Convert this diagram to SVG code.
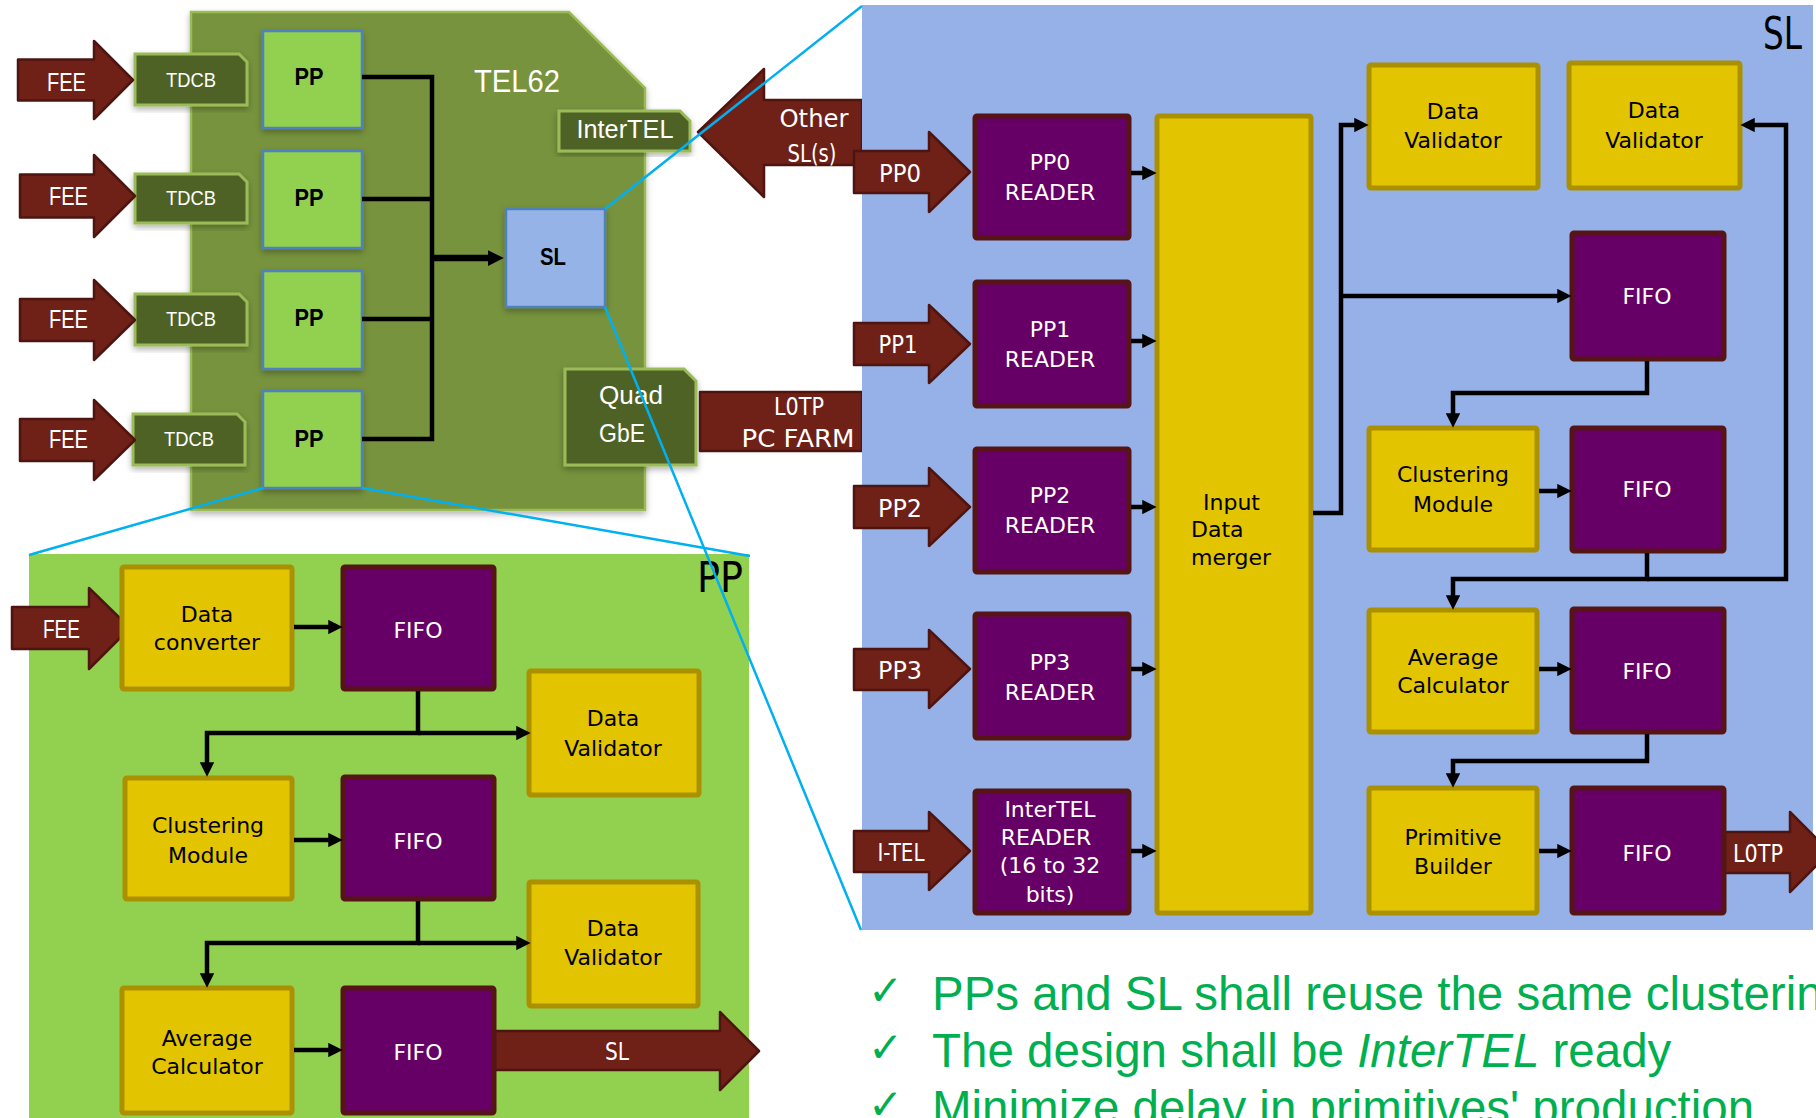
<svg xmlns="http://www.w3.org/2000/svg" width="1816" height="1118" viewBox="0 0 1816 1118">
<defs>
<style>
.board{fill:#77933c;stroke:#9bbb59;stroke-width:2.5}
.dk{fill:#4f6228;stroke:#9bbb59;stroke-width:3}
.ppb{fill:#92d050;stroke:#4f81bd;stroke-width:2.5}
.slb{fill:#95b3e7;stroke:#4f81bd;stroke-width:2.5}
.red{fill:#6f2017;stroke:#4e1510;stroke-width:2.5;stroke-linejoin:round}
.pur{fill:#660066;stroke:#561416;stroke-width:5}
.yel{fill:#e2c400;stroke:#ab9000;stroke-width:5}
.wire{fill:none;stroke:#000;stroke-width:4.5;marker-end:url(#ah)}
.bus{fill:none;stroke:#000;stroke-width:4.5}
.zoom{fill:none;stroke:#00b0f0;stroke-width:2.5}
.t{font-family:"DejaVu Sans",Verdana,sans-serif;text-anchor:middle}
.b22{font-size:22px}
.b24{font-size:24px}
.n{font-family:"Liberation Sans Narrow","Liberation Sans",Arial,sans-serif;text-anchor:middle}
.st{text-anchor:start}
.w{fill:#fff}
.k{fill:#000}
.bul{font-family:"Liberation Sans",Arial,sans-serif;font-size:47.5px;fill:#00b050}
.chk{font-family:"DejaVu Sans",sans-serif;font-size:42px;fill:#00b050}
</style>
<marker id="ah" viewBox="0 0 10 10" refX="4" refY="5" markerWidth="3.2" markerHeight="3.2" orient="auto" markerUnits="strokeWidth"><path d="M0,0L10,5L0,10z" fill="#000"/></marker>
<marker id="ahb" viewBox="0 0 10 10" refX="4" refY="5" markerWidth="2.5" markerHeight="2.7" orient="auto" markerUnits="strokeWidth"><path d="M0,0L10,5L0,10z" fill="#000"/></marker>
<filter id="sh" x="-10%" y="-10%" width="125%" height="125%"><feDropShadow dx="0" dy="3" stdDeviation="3" flood-color="#000" flood-opacity="0.3"/></filter>
</defs>
<rect width="1816" height="1118" fill="#fff"/>

<!-- TEL62 board -->
<g id="tel62">
<path class="board" filter="url(#sh)" d="M191,12H569L645,88V510H191Z"/>
<text class="n w" x="517" y="92" font-size="32" textLength="86" lengthAdjust="spacingAndGlyphs">TEL62</text>
</g>

<g id="tdcb1"><path class="dk" filter="url(#sh)" d="M135,54H239L247,62V105H135Z"/><text class="n w" x="191" y="87" font-size="21" textLength="50" lengthAdjust="spacingAndGlyphs">TDCB</text></g>
<g id="tdcb2"><path class="dk" filter="url(#sh)" d="M135,174H239L247,182V223H135Z"/><text class="n w" x="191" y="205" font-size="21" textLength="50" lengthAdjust="spacingAndGlyphs">TDCB</text></g>
<g id="tdcb3"><path class="dk" filter="url(#sh)" d="M135,294H239L247,302V345H135Z"/><text class="n w" x="191" y="326" font-size="21" textLength="50" lengthAdjust="spacingAndGlyphs">TDCB</text></g>
<g id="tdcb4"><path class="dk" filter="url(#sh)" d="M133,414H237L245,422V465H133Z"/><text class="n w" x="189" y="446" font-size="21" textLength="50" lengthAdjust="spacingAndGlyphs">TDCB</text></g>

<g id="fee1"><path class="red" d="M18,59.5H94V41L133,80L94,119V100.5H18Z"/><text class="n w" x="66.5" y="91" font-size="25" textLength="39" lengthAdjust="spacingAndGlyphs">FEE</text></g>
<g id="fee2"><path class="red" d="M20,174.5H94V155L135,196L94,237V217.5H20Z"/><text class="n w" x="68.5" y="205" font-size="25" textLength="39" lengthAdjust="spacingAndGlyphs">FEE</text></g>
<g id="fee3"><path class="red" d="M20,299H94V280L135,320L94,360V341H20Z"/><text class="n w" x="68.5" y="328" font-size="25" textLength="39" lengthAdjust="spacingAndGlyphs">FEE</text></g>
<g id="fee4"><path class="red" d="M20,419H94V400L135,440L94,480V461H20Z"/><text class="n w" x="68.5" y="448" font-size="25" textLength="39" lengthAdjust="spacingAndGlyphs">FEE</text></g>

<g id="pp1"><rect class="ppb" filter="url(#sh)" x="263" y="31" width="99" height="97"/><text class="n k" x="309" y="85" font-size="24" font-weight="bold" textLength="29" lengthAdjust="spacingAndGlyphs">PP</text></g>
<g id="pp2"><rect class="ppb" filter="url(#sh)" x="263" y="151" width="99" height="97"/><text class="n k" x="309" y="206" font-size="24" font-weight="bold" textLength="29" lengthAdjust="spacingAndGlyphs">PP</text></g>
<g id="pp3"><rect class="ppb" filter="url(#sh)" x="263" y="271" width="99" height="98"/><text class="n k" x="309" y="326" font-size="24" font-weight="bold" textLength="29" lengthAdjust="spacingAndGlyphs">PP</text></g>
<g id="pp4"><rect class="ppb" filter="url(#sh)" x="263" y="391" width="99" height="97"/><text class="n k" x="309" y="447" font-size="24" font-weight="bold" textLength="29" lengthAdjust="spacingAndGlyphs">PP</text></g>

<g id="sl-box"><rect class="slb" filter="url(#sh)" x="506" y="209" width="99" height="98"/><text class="n k" x="553" y="265" font-size="24" font-weight="bold" textLength="26" lengthAdjust="spacingAndGlyphs">SL</text></g>

<g id="intertel"><path class="dk" filter="url(#sh)" d="M559,111H680L690,121V151H559Z"/><text class="n w" x="625" y="138" font-size="25" textLength="97" lengthAdjust="spacingAndGlyphs">InterTEL</text></g>

<g id="quad-gbe"><path class="dk" filter="url(#sh)" d="M565,369H684L696,381V465H565Z"/>
<text class="n w st" x="599" y="404" font-size="25" textLength="64" lengthAdjust="spacingAndGlyphs">Quad</text>
<text class="n w st" x="599" y="442" font-size="25" textLength="46" lengthAdjust="spacingAndGlyphs">GbE</text></g>

<g id="other-sl"><path class="red" d="M862,100H764V69L698,132L764,197V165H862Z"/>
<text class="t b24 w" x="814" y="127" textLength="69" lengthAdjust="spacingAndGlyphs">Other</text>
<text class="t b24 w" x="812" y="162" textLength="49" lengthAdjust="spacingAndGlyphs">SL(s)</text></g>

<g id="l0tp-farm"><rect class="red" x="700" y="392" width="162" height="59"/>
<text class="t b24 w" x="799" y="415" textLength="50" lengthAdjust="spacingAndGlyphs">L0TP</text>
<text class="t b24 w" x="798" y="447" textLength="113" lengthAdjust="spacingAndGlyphs">PC FARM</text></g>

<!-- SL detail panel -->
<g id="sl-panel">
<rect x="862" y="5" width="951" height="925" fill="#95b1e7"/>
<text class="t k st" x="1763" y="49" style="font-size:44px" textLength="39" lengthAdjust="spacingAndGlyphs">SL</text>
</g>

<g id="in-pp0"><path class="red" d="M854,151H929V132L970,172L929,212V193H854Z"/><text class="t b24 w" x="900" y="182" textLength="42" lengthAdjust="spacingAndGlyphs">PP0</text></g>
<g id="in-pp1"><path class="red" d="M854,323H929V305L970,344L929,383V365H854Z"/><text class="t b24 w" x="898" y="353" textLength="39" lengthAdjust="spacingAndGlyphs">PP1</text></g>
<g id="in-pp2"><path class="red" d="M854,486H929V468L970,507L929,546V528H854Z"/><text class="t b24 w" x="900" y="517" textLength="44" lengthAdjust="spacingAndGlyphs">PP2</text></g>
<g id="in-pp3"><path class="red" d="M854,649H929V630L970,669L929,708V690H854Z"/><text class="t b24 w" x="900" y="679" textLength="44" lengthAdjust="spacingAndGlyphs">PP3</text></g>
<g id="in-itel"><path class="red" d="M854,831H929V812L970,851L929,890V872H854Z"/><text class="t b24 w" x="901" y="861" textLength="47" lengthAdjust="spacingAndGlyphs">I-TEL</text></g>

<g id="pp0-reader"><rect class="pur" x="975" y="116" width="154" height="122" rx="2"/><text class="t b22 w" x="1050" y="170">PP0</text><text class="t b22 w" x="1050" y="200">READER</text></g>
<g id="pp1-reader"><rect class="pur" x="975" y="282" width="154" height="124" rx="2"/><text class="t b22 w" x="1050" y="337">PP1</text><text class="t b22 w" x="1050" y="367">READER</text></g>
<g id="pp2-reader"><rect class="pur" x="975" y="449" width="154" height="123" rx="2"/><text class="t b22 w" x="1050" y="503">PP2</text><text class="t b22 w" x="1050" y="533">READER</text></g>
<g id="pp3-reader"><rect class="pur" x="975" y="614" width="154" height="124" rx="2"/><text class="t b22 w" x="1050" y="670">PP3</text><text class="t b22 w" x="1050" y="700">READER</text></g>
<g id="intertel-reader"><rect class="pur" x="975" y="791" width="154" height="122" rx="2"/><text class="t b22 w" x="1050" y="817">InterTEL</text><text class="t b22 w" x="1046" y="845">READER</text><text class="t b22 w" x="1050" y="873">(16 to 32</text><text class="t b22 w" x="1050" y="902">bits)</text></g>

<g id="merger"><rect class="yel" x="1157" y="116" width="154" height="797" rx="2"/>
<text class="t b22 k st" x="1203" y="510">Input</text>
<text class="t b22 k st" x="1191" y="537">Data</text>
<text class="t b22 k st" x="1191" y="565">merger</text></g>

<g id="sl-dv1"><rect class="yel" x="1369" y="65" width="169" height="123" rx="2"/><text class="t b22 k" x="1453" y="119">Data</text><text class="t b22 k" x="1453" y="148">Validator</text></g>
<g id="sl-dv2"><rect class="yel" x="1569" y="63" width="171" height="125" rx="2"/><text class="t b22 k" x="1654" y="118">Data</text><text class="t b22 k" x="1654" y="148">Validator</text></g>
<g id="sl-fifo1"><rect class="pur" x="1572" y="233" width="152" height="126" rx="2"/><text class="t b22 w" x="1647" y="304">FIFO</text></g>
<g id="sl-cluster"><rect class="yel" x="1369" y="428" width="168" height="122" rx="2"/><text class="t b22 k" x="1453" y="482">Clustering</text><text class="t b22 k" x="1453" y="512">Module</text></g>
<g id="sl-fifo2"><rect class="pur" x="1572" y="428" width="152" height="123" rx="2"/><text class="t b22 w" x="1647" y="497">FIFO</text></g>
<g id="sl-avg"><rect class="yel" x="1369" y="610" width="168" height="122" rx="2"/><text class="t b22 k" x="1453" y="665">Average</text><text class="t b22 k" x="1453" y="693">Calculator</text></g>
<g id="sl-fifo3"><rect class="pur" x="1572" y="609" width="152" height="123" rx="2"/><text class="t b22 w" x="1647" y="679">FIFO</text></g>
<g id="sl-l0tp"><path class="red" d="M1724,832H1790V812L1830,852L1790,892V873H1724Z"/><text class="t b24 w" x="1758" y="862" textLength="50" lengthAdjust="spacingAndGlyphs">L0TP</text></g>
<g id="sl-prim"><rect class="yel" x="1369" y="788" width="168" height="125" rx="2"/><text class="t b22 k" x="1453" y="845">Primitive</text><text class="t b22 k" x="1453" y="874">Builder</text></g>
<g id="sl-fifo4"><rect class="pur" x="1572" y="788" width="152" height="125" rx="2"/><text class="t b22 w" x="1647" y="861">FIFO</text></g>

<!-- PP detail panel -->
<g id="pp-panel">
<rect x="29" y="554" width="720" height="570" fill="#92d050"/>
<text class="t k st" x="697" y="592" style="font-size:42px" textLength="46" lengthAdjust="spacingAndGlyphs">PP</text>
</g>
<g id="pp-fee"><path class="red" d="M12,607H89V588L130,628L89,669V649H12Z"/><text class="n w" x="61.5" y="638" font-size="26" textLength="37" lengthAdjust="spacingAndGlyphs">FEE</text></g>
<g id="pp-conv"><rect class="yel" x="122" y="567" width="170" height="122" rx="2"/><text class="t b22 k" x="207" y="622">Data</text><text class="t b22 k" x="207" y="650">converter</text></g>
<g id="pp-fifo1"><rect class="pur" x="343" y="567" width="151" height="122" rx="2"/><text class="t b22 w" x="418" y="638">FIFO</text></g>
<g id="pp-dv1"><rect class="yel" x="529" y="671" width="170" height="124" rx="2"/><text class="t b22 k" x="613" y="726">Data</text><text class="t b22 k" x="613" y="756">Validator</text></g>
<g id="pp-cluster"><rect class="yel" x="125" y="778" width="167" height="121" rx="2"/><text class="t b22 k" x="208" y="833">Clustering</text><text class="t b22 k" x="208" y="863">Module</text></g>
<g id="pp-fifo2"><rect class="pur" x="343" y="777" width="151" height="122" rx="2"/><text class="t b22 w" x="418" y="849">FIFO</text></g>
<g id="pp-dv2"><rect class="yel" x="529" y="882" width="169" height="124" rx="2"/><text class="t b22 k" x="613" y="936">Data</text><text class="t b22 k" x="613" y="965">Validator</text></g>
<g id="pp-avg"><rect class="yel" x="122" y="988" width="170" height="125" rx="2"/><text class="t b22 k" x="207" y="1046">Average</text><text class="t b22 k" x="207" y="1074">Calculator</text></g>
<g id="pp-sl-out"><path class="red" d="M494,1031H720V1012L759,1051L720,1090V1070H494Z"/><text class="t b24 w" x="617" y="1060" textLength="24" lengthAdjust="spacingAndGlyphs">SL</text></g>
<g id="pp-fifo3"><rect class="pur" x="343" y="988" width="151" height="125" rx="2"/><text class="t b22 w" x="418" y="1060">FIFO</text></g>

<!-- connectors -->
<g id="connectors">
<path class="bus" d="M362,77H432V439H362M362,199H432M362,319H432"/>
<path d="M432,258H494" fill="none" stroke="#000" stroke-width="6.5" marker-end="url(#ahb)"/>
<path class="wire" d="M1131,173H1148"/>
<path class="wire" d="M1131,341H1148"/>
<path class="wire" d="M1131,507H1148"/>
<path class="wire" d="M1131,669H1148"/>
<path class="wire" d="M1131,851H1148"/>
<path class="wire" d="M1313,513H1341V125H1360"/>
<path class="wire" d="M1341,296H1563"/>
<path class="wire" d="M1647,361V393H1453V419"/>
<path class="wire" d="M1539,491H1563"/>
<path class="wire" d="M1647,553V579H1453V601"/>
<path class="wire" d="M1647,579H1786V125H1749"/>
<path class="wire" d="M1539,669H1563"/>
<path class="wire" d="M1647,734V761H1453V779"/>
<path class="wire" d="M1539,851H1563"/>
<path class="wire" d="M294,627H334"/>
<path class="wire" d="M418,691V733H207V768"/>
<path class="wire" d="M418,733H522"/>
<path class="wire" d="M294,840H334"/>
<path class="wire" d="M418,901V943H207V979"/>
<path class="wire" d="M418,943H522"/>
<path class="wire" d="M294,1050H334"/>
</g>

<!-- zoom guide lines -->
<g id="guides">
<path class="zoom" d="M605,209L862,6M605,307L861,930M263,488L29,555M362,488L750,556"/>
</g>

<!-- requirement bullets -->
<g id="notes">
<text class="chk" x="868" y="1005">✓</text>
<text class="chk" x="868" y="1062">✓</text>
<text class="chk" x="868" y="1119">✓</text>
<text class="bul" x="932" y="1010">PPs and SL shall reuse the same clustering</text>
<text class="bul" x="932" y="1067">The design shall be <tspan font-style="italic">InterTEL</tspan> ready</text>
<text class="bul" x="932" y="1124">Minimize delay in primitives' production</text>
</g>
</svg>
